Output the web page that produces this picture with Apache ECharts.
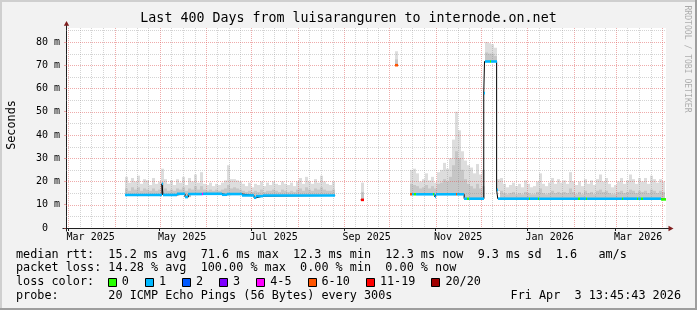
<!DOCTYPE html>
<html><head><meta charset="utf-8">
<script src="https://cdn.jsdelivr.net/npm/echarts@6/dist/echarts.min.js"></script>
<style>html,body{margin:0;padding:0;background:#f2f2f2}#c{width:697px;height:310px}</style>
</head><body><div id="c"></div>
<script>
// ---------------- data ----------------
const titleText = 'Last 400 Days from luisaranguren to internode.on.net';
const chartEnd = '2026-04-03T13:45:43';
const chartDays = 400;
const yMax = 86;
const yTicks = [0, 10, 20, 30, 40, 50, 60, 70, 80];
const yMinorTicks = [5, 15, 25, 35, 45, 55, 65, 75, 85];
const monthStarts = ['2025-03-01','2025-04-01','2025-05-01','2025-06-01','2025-07-01','2025-08-01','2025-09-01',
  '2025-10-01','2025-11-01','2025-12-01','2026-01-01','2026-02-01','2026-03-01','2026-04-01','2026-05-01'];
const labelMonths = ['2025-03-01','2025-05-01','2025-07-01','2025-09-01','2025-11-01','2026-01-01','2026-03-01'];
const labelTexts = ['Mar 2025','May 2025','Jul 2025','Sep 2025','Nov 2025','Jan 2026','Mar 2026'];
const labelCenterDays = 15;

const smokeStepDays = 2;
// segment A
const smokeA_start = '2025-04-08';
const smokeA_top = [22,19.5,21.5,20,22.5,19,21,20.5,18.5,21.5, 19,20,25.5,21,19,20.5,18.5,21,19.5,22,
  18.5,21.5,20,23,19.5,24,19,18.5,19.5,18, 19,18.5,19.5,20.5,27,21,21,20.5,20,19,
  18,19.5,17.5,19,18.5,20,18,19.5,18.5,20, 19,18.5,20,19,18.5,19.5,18,20,21.5,19,
  22,20,19,21,19.5,22.5,20,19,18.5,20];
const smokeA_mid = [17,16,17.5,16.5,17.5,16,17,16.5,16,17, 16,16.5,19.5,17,16,16.5,16,17,16.5,17.5,
  16,17,16.5,18,16.5,18,16.5,16,16.5,16, 16.5,16,16.5,17,18.5,17,17.5,17,16.5,16,
  15.5,16,15.5,16,15.5,16.5,15.5,16,16,16.5, 16,15.5,16.5,16,15.5,16,15.5,16.5,17,16,
  17.5,16.5,16,17,16.5,17.5,16.5,16,16,16.5];
// point B
const smokeB_start = '2025-09-12';
const smokeB_top = [19.5];
const smokeB_mid = [15.5];
// point C
const smokeC_start = '2025-10-05';
const smokeC_top = [76];
const smokeC_mid = [72.5];
// segment D
const smokeD_start = '2025-10-15';
const smokeD_top = [25,25.5,23.5,20,21,23.5,20.5,22,19.5,24, 25,28,25.5,30,38,50,42,33,29,27, 26,23.5,27.5,23,25];
const smokeD_mid = [19,18.5,18,17,17.5,18.5,17,18,17,19, 19.5,21,20,22,27,33,30,25,21,19, 18,17,19,17,18];
// spike E
const smokeE_start = '2025-12-04';
const smokeE_top = [80,79.5,79,77.5];
const smokeE_mid = [75.5,75,75,74];
// segment F
const smokeF_start = '2025-12-12';
const smokeF_top = [21,21.5,19,17.5,18.5,19.5,18,19,17.5,20.5, 19,17.5,18,20,23.5,19,18,19.5,21.5,19,
  21,19.5,20.5,19,24,20,18.5,20,18,21, 19,20.5,18.5,21,23,20,21.5,19,17.5,18.5,
  20,21.5,19,20.5,23,21,19,21.5,20,21.5, 19,22.5,21,19.5,21,20];
const smokeF_mid = [16,16,15,14.5,15,15.5,14.5,15,14.5,15.5, 15,14.5,14.5,15.5,17,15,14.5,15,16,15,
  15.5,15,15.5,15,17,15.5,14.5,15.5,14.5,16, 15,15.5,14.5,16,16.5,15.5,16,15,14.5,14.5,
  15.5,16,15,15.5,16.5,16,15,16,15.5,16, 15,16.5,16,15,16,15.5];

// median rtt (ms) as steps: value holds from the date on; null = no data
const medianSteps = [
  ['2025-04-08',14.2],['2025-05-02T14:00',19.0],['2025-05-03T06:00',14.2],['2025-05-12T10:00',14.7],
  ['2025-05-17T22:00',13.3],['2025-05-20T02:00',14.6],['2025-05-30T00:00',14.7],['2025-06-11T10:00',14.3],
  ['2025-06-14T16:00',14.6],['2025-06-24T16:00',14.0],['2025-07-02T22:00',13.0],['2025-07-04T10:00',13.7],
  ['2025-07-08T20:00',14.0],['2025-08-26',null],
  ['2025-09-12',12.1],['2025-09-14',null],
  ['2025-10-05',70.0],['2025-10-07',null],
  ['2025-10-15',14.5],['2025-10-31T12:00',13.4],['2025-11-01T12:00',14.5],['2025-11-20',12.6],
  ['2025-12-03T02:00',58.0],['2025-12-03T14:00',71.6],['2025-12-11T16:00',16.4],['2025-12-12T10:00',12.6],
  ['2026-03-31',12.3],['2026-04-03T13:45:43',null]
];
// packet loss class index (into lossLabels) as steps
const lossSteps = [
  ['2025-04-08',1],['2025-05-29',4],['2025-05-30',1],['2025-08-26',null],
  ['2025-09-12',6],['2025-09-14',null],
  ['2025-10-05',5],['2025-10-07',null],
  ['2025-10-15',5],['2025-10-16',1],['2025-10-17T12:00',0],['2025-10-19',1],['2025-10-30',0],['2025-10-31',1],
  ['2025-11-14T12:00',5],['2025-11-15T12:00',1],['2025-11-22',0],['2025-11-23T06:00',1],
  ['2025-12-07',0],['2025-12-08',1],['2026-01-02',0],['2026-01-03',1],['2026-01-08',0],['2026-01-09',1],
  ['2026-02-04',0],['2026-02-05T12:00',1],['2026-02-09',0],['2026-02-10',1],['2026-03-05',0],['2026-03-06',1],
  ['2026-03-15',0],['2026-03-16',1],['2026-03-18',0],['2026-03-19',1],['2026-03-31',0],['2026-04-03T13:45:43',null]
];
const lossLabels = ['0','1','2','3','4-5','6-10','11-19','20/20'];
const lossColors = ['#26ff00','#00b8ff','#0059ff','#7e00ff','#ff00ff','#ff5500','#ff0000','#a00000'];

const legendRow1 = 'median rtt:  15.2 ms avg  71.6 ms max  12.3 ms min  12.3 ms now  9.3 ms sd  1.6   am/s';
const legendRow2 = 'packet loss: 14.28 % avg  100.00 % max  0.00 % min  0.00 % now';
const legendRow3 = 'loss color:';
const legendRow4 = 'probe:       20 ICMP Echo Pings (56 Bytes) every 300s';
const legendDate = 'Fri Apr  3 13:45:43 2026';
const yAxisName = 'Seconds';
const watermark = 'RRDTOOL / TOBI OETIKER';

// ---------------- build ----------------
const DAY = 86400000;
function ts(s){ return Date.parse(s.length === 10 ? s + 'T00:00:00Z' : s + 'Z'); }
const xMax = ts(chartEnd), xMin = xMax - chartDays * DAY;
function stepAt(steps, t){ let v = null; for (const [d, val] of steps){ if (ts(d) <= t) v = val; else break; } return v; }

const smokeData = [];
[[smokeA_start, smokeA_top, smokeA_mid],[smokeB_start, smokeB_top, smokeB_mid],[smokeC_start, smokeC_top, smokeC_mid],
 [smokeD_start, smokeD_top, smokeD_mid],[smokeE_start, smokeE_top, smokeE_mid],[smokeF_start, smokeF_top, smokeF_mid]]
.forEach(([st, tops, mids]) => {
  const t0 = ts(st);
  tops.forEach((top, i) => {
    const a = t0 + i * smokeStepDays * DAY, b = a + smokeStepDays * DAY;
    let med = stepAt(medianSteps, a); if (med == null) med = stepAt(medianSteps, a + 3600000);
    smokeData.push([a, Math.min(b, xMax), med, mids[i], top]);
  });
});

const bps = [...new Set([...medianSteps, ...lossSteps].map(d => ts(d[0])))].sort((a, b) => a - b);
const medSegs = [];
for (let i = 0; i < bps.length - 1; i++){
  const v = stepAt(medianSteps, bps[i]), c = stepAt(lossSteps, bps[i]);
  if (v != null && c != null) medSegs.push([bps[i], bps[i+1], v, c]);
}
const lineData = []; let prev = null;
for (const [d, v] of medianSteps){
  const t = ts(d);
  if (v == null){ if (prev != null){ lineData.push([t, prev]); lineData.push([t, null]); } prev = null; }
  else { lineData.push([t, v]); prev = v; }
}

const vGrid = [];
for (let i = 0; i < monthStarts.length - 1; i++){
  const a = ts(monthStarts[i]), b = ts(monthStarts[i+1]);
  if (a >= xMin && a <= xMax) vGrid.push([a, 0, 1]);
  for (let k = 1; k < 4; k++){ const t = a + (b - a) * k / 4; if (t > xMin && t < xMax) vGrid.push([t, 0, 0]); }
}
const hGrid = yMinorTicks.map(v => [xMin, v, 0]).concat(yTicks.filter(v => v > 0).map(v => [xMin, v, 1]));
const labelCenters = labelMonths.map(m => ts(m) + labelCenterDays * DAY);
const tickTimes = labelMonths.map(ts);

const MONO = '"DejaVu Sans Mono", monospace';
const gridRed = 'rgba(222,79,79,0.48)', gridGray = 'rgba(143,143,143,0.38)';
const axisCol = '#1f1f1f';

const chart = echarts.init(document.getElementById('c'), null, {renderer: 'canvas'});
chart.setOption({
  animation: false,
  backgroundColor: '#f2f2f2',
  grid: {left: 66, right: 31, top: 28, bottom: 82, show: true, backgroundColor: '#ffffff', borderWidth: 0, containLabel: false, outerBoundsMode: 'none'},
  xAxis: {
    type: 'value', min: xMin, max: xMax, splitLine: {show: false},
    axisLine: {show: true, onZero: false, lineStyle: {color: axisCol, width: 1}},
    axisTick: {show: true, customValues: tickTimes, length: 3, lineStyle: {color: axisCol}},
    axisLabel: {customValues: labelCenters, margin: 4, fontFamily: MONO, fontSize: 10, color: '#000',
      formatter: v => { let bi = 0, bd = Infinity; labelCenters.forEach((c, i) => { const d = Math.abs(c - v); if (d < bd){ bd = d; bi = i; } }); return labelTexts[bi]; }}
  },
  yAxis: {
    type: 'value', min: 0, max: yMax, interval: 10, splitLine: {show: false},
    axisLine: {show: true, onZero: false, lineStyle: {color: axisCol, width: 1}},
    axisTick: {show: true, customValues: yTicks, length: 2, lineStyle: {color: gridRed}},
    axisLabel: {customValues: yTicks, margin: 6, fontFamily: MONO, fontSize: 10, color: '#000',
      formatter: v => (v % 10 ? '' : (v === 0 ? '0  ' : v + ' m'))}
  },
  series: [
    {type: 'custom', name: 'smoke', z: 1, clip: true, data: smokeData, encode: {x: [0, 1], y: [2, 3, 4]},
      renderItem: (p, api) => {
        const a = api.coord([api.value(0), api.value(4)]), b = api.coord([api.value(1), api.value(2)]), m = api.coord([api.value(0), api.value(3)]);
        const x0 = Math.round(a[0]), x1 = Math.round(b[0]);
        return {type: 'group', children: [
          {type: 'rect', shape: {x: x0, y: a[1], width: x1 - x0, height: b[1] - a[1]}, style: {fill: '#dddddd'}},
          {type: 'rect', shape: {x: x0, y: m[1], width: x1 - x0, height: b[1] - m[1]}, style: {fill: '#c6c6c6'}}
        ]};
      }},
    {type: 'custom', name: 'vgrid', z: 2, clip: false, silent: true, data: vGrid, encode: {x: 0, y: 1},
      renderItem: (p, api) => {
        const cs = p.coordSys; const x = Math.round(api.coord([api.value(0), 0])[0]) + 0.5;
        return {type: 'line', shape: {x1: x, y1: cs.y, x2: x, y2: cs.y + cs.height},
          style: {stroke: api.value(2) ? gridRed : gridGray, lineWidth: 1, lineDash: [1, 1]}};
      }},
    {type: 'custom', name: 'hgrid', z: 2, clip: false, silent: true, data: hGrid, encode: {x: 0, y: 1},
      renderItem: (p, api) => {
        const cs = p.coordSys; const y = Math.round(api.coord([api.value(0), api.value(1)])[1]) + 0.5;
        return {type: 'line', shape: {x1: cs.x, y1: y, x2: cs.x + cs.width, y2: y},
          style: {stroke: api.value(2) ? gridRed : gridGray, lineWidth: 1, lineDash: [1, 1]}};
      }},
    {type: 'line', name: 'median', z: 3, step: 'end', data: lineData, showSymbol: false, symbol: 'none',
      connectNulls: false, lineStyle: {color: '#000', width: 1}},
    {type: 'custom', name: 'loss', z: 4, clip: true, data: medSegs, encode: {x: [0, 1], y: 2},
      renderItem: (p, api) => {
        const a = api.coord([api.value(0), api.value(2)]), b = api.coord([api.value(1), api.value(2)]);
        const x0 = Math.round(a[0]), x1 = Math.max(Math.round(b[0]), x0 + 1);
        return {type: 'rect', shape: {x: x0, y: a[1] - 1.3, width: x1 - x0, height: 2.6}, style: {fill: lossColors[api.value(3)]}};
      }}
  ]
});

// decorations: frame, arrows, texts, legend
const [xr, yt] = chart.convertToPixel({gridIndex: 0}, [xMax, yMax]);
const [xl, yb] = chart.convertToPixel({gridIndex: 0}, [xMin, 0]);
const W = 697, H = 310;
const g = [];
g.push({type: 'rect', shape: {x: 0, y: 0, width: W, height: 2}, style: {fill: '#cfcfcf'}});
g.push({type: 'rect', shape: {x: 0, y: 0, width: 2, height: H}, style: {fill: '#cfcfcf'}});
g.push({type: 'rect', shape: {x: W - 2, y: 0, width: 2, height: H}, style: {fill: '#9e9e9e'}});
g.push({type: 'rect', shape: {x: 0, y: H - 2, width: W, height: 2}, style: {fill: '#9e9e9e'}});
const ax = Math.round(xl) + 0.5, ay = Math.round(yb) + 0.5;
g.push({type: 'line', shape: {x1: ax, y1: yt - 3, x2: ax, y2: ay + 3}, style: {stroke: axisCol, lineWidth: 1}});
g.push({type: 'line', shape: {x1: ax - 4, y1: ay, x2: xr + 3, y2: ay}, style: {stroke: axisCol, lineWidth: 1}});
g.push({type: 'polygon', shape: {points: [[ax, yt - 7], [ax - 2.7, yt - 2.3], [ax + 2.7, yt - 2.3]]}, style: {fill: '#801f1f'}});
g.push({type: 'polygon', shape: {points: [[xr + 7.5, ay], [xr + 2.5, ay - 2.7], [xr + 2.5, ay + 2.7]]}, style: {fill: '#801f1f'}});
const txt = (text, x, y, font, opts = {}) => ({type: 'text', x, y, rotation: opts.rot || 0,
  style: {text, x: 0, y: 0, font, fill: opts.fill || '#000', align: opts.align || 'left', verticalAlign: 'middle',
    textAlign: opts.align || 'left', textVerticalAlign: 'middle'}});
g.push(txt(titleText, 348.5, 19, '13.3px ' + MONO, {align: 'center'}));
g.push(txt(yAxisName, 11.5, 125, '11.8px ' + MONO, {align: 'center', rot: Math.PI / 2}));
g.push(txt(watermark, 687.5, 59, '8.1px ' + MONO, {align: 'center', rot: -Math.PI / 2, fill: 'rgba(0,0,0,0.3)'}));
const LF = '11.8px ' + MONO, CW = 7.1, LX = 16;
g.push(txt(legendRow1, LX, 254.5, LF));
g.push(txt(legendRow2, LX, 268.3, LF));
g.push(txt(legendRow3, LX, 282.3, LF));
g.push(txt(legendRow4, LX, 296, LF));
g.push(txt(legendDate, 681, 296, LF, {align: 'right'}));
let bx = LX + 13 * CW - 0.5;
lossLabels.forEach((lab, i) => {
  g.push({type: 'rect', shape: {x: Math.round(bx) + 0.5, y: 278.5, width: 8, height: 8}, style: {fill: lossColors[i], stroke: '#000', lineWidth: 1}});
  g.push(txt(lab, bx + 14, 282.3, LF));
  bx += 30 + CW * lab.length;
});
chart.setOption({graphic: {elements: g}});
</script>
</body></html>
